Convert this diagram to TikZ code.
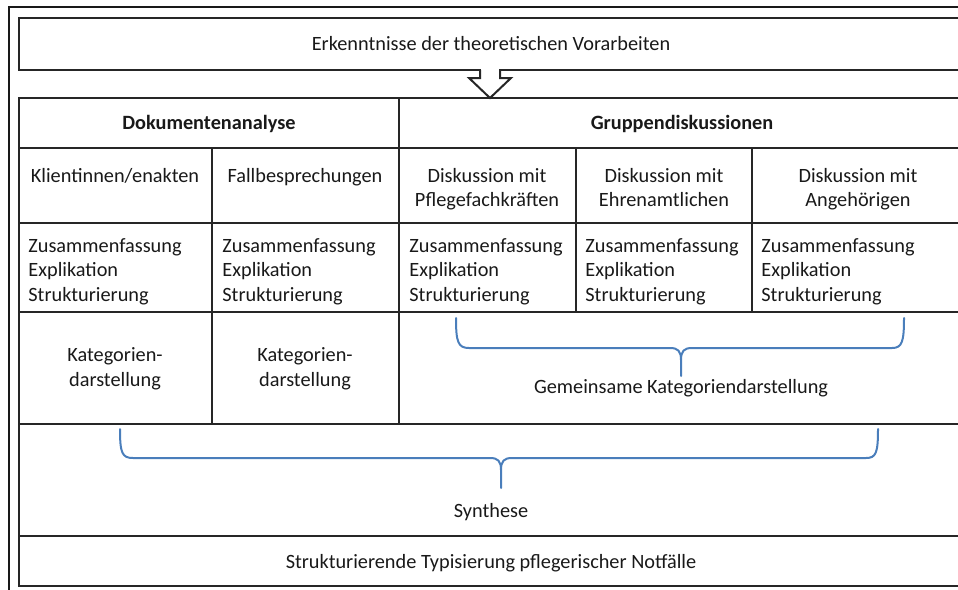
\documentclass[tikz,border=0pt]{standalone}
\usepackage{fontspec}
\setmainfont{Carlito}
\begin{document}
\begin{tikzpicture}[x=0.5pt,y=-0.5pt,
  frame/.style={draw=black!85,line width=1pt},
  outerframe/.style={draw=black!90,line width=1.3pt},
  brace/.style={draw=bracecol,line width=1pt,line cap=round,line join=round},
  txt/.style={inner sep=0pt,text=black!90,font=\fontsize{10.15}{12.25}\selectfont},
  ctxt/.style={txt,align=center},
  ltxt/.style={txt,align=left,anchor=north west},
  hd/.style={txt,font=\fontsize{10.15}{12.25}\selectfont\bfseries}]
\definecolor{bracecol}{RGB}{74,126,187}
\useasboundingbox (0,0) rectangle (958,589);
\clip (0,0) rectangle (958,589);

% outer frame (runs off the page to the right and bottom)
\draw[outerframe] (9,620) -- (9,7) -- (990,7);

% top box
\draw[frame] (19,18) rectangle (990,70);
\node[ctxt] (vorarbeiten) at (491,44) {Erkenntnisse der theoretischen Vorarbeiten};

% block arrow into the table
\fill[white] (481,67) rectangle (499,73);
\draw[frame,line join=miter,fill=white] (480,70) -- (480,78) -- (469,78) -- (490,98) -- (511,78) -- (500,78) -- (500,70);
\coordinate (tip) at (490,98);

% table grid
\draw[frame] (19,98) rectangle (990,424);
\draw[frame] (19,148) -- (990,148);
\draw[frame] (19,223) -- (990,223);
\draw[frame] (19,312) -- (990,312);
\draw[frame] (399,98) -- (399,424);
\draw[frame] (212,148) -- (212,424);
\draw[frame] (576,148) -- (576,312);
\draw[frame] (752,148) -- (752,312);

% synthesis and result rows
\draw[frame] (19,424) rectangle (990,536);
\draw[frame] (19,536) rectangle (990,586);

% headings
\node[hd] (doku) at (209,124) {Dokumentenanalyse};
\node[hd] (gruppen) at (682,124) {Gruppendiskussionen};

% sources
\node[ctxt,anchor=north] (akten) at (115,168) {Klientinnen/enakten};
\node[ctxt,anchor=north] (fall) at (305,168) {Fallbesprechungen};
\node[ctxt,anchor=north] (pflege) at (487,168) {Diskussion mit\\Pflegefachkräften};
\node[ctxt,anchor=north] (ehren) at (664,168) {Diskussion mit\\Ehrenamtlichen};
\node[ctxt,anchor=north] (angeh) at (858,168) {Diskussion mit\\Angehörigen};

% analysis steps
\foreach \x/\n in {28/a,222/b,409/c,585/d,761/e}
  \node[ltxt] (steps\n) at (\x,238) {Zusammenfassung\\Explikation\\Strukturierung};

% category presentations
\node[ctxt] (kat1) at (115,369) {Kategorien-\\darstellung};
\node[ctxt] (kat2) at (305,369) {Kategorien-\\darstellung};
\node[ctxt] (gemeinsam) at (681,388) {Gemeinsame Kategoriendarstellung};

% braces
\draw[brace] (456,318) .. controls (456,342) and (458,348) .. (469,348) -- (670,348)
  .. controls (678,348) and (681,351) .. (681,360) -- (681,376)
  (681,360) .. controls (681,351) and (684,348) .. (692,348) -- (892,348)
  .. controls (902,348) and (904,342) .. (904,318);
\draw[brace] (120,429) .. controls (120,453) and (122,458) .. (133,458) -- (490,458)
  .. controls (498,458) and (501,461) .. (501,470) -- (501,488)
  (501,470) .. controls (501,461) and (504,458) .. (512,458) -- (866,458)
  .. controls (876,458) and (878,453) .. (878,429);

\node[ctxt] (synthese) at (491,512) {Synthese};
\node[ctxt] (typisierung) at (491,563) {Strukturierende Typisierung pflegerischer Notfälle};
\end{tikzpicture}
\end{document}
